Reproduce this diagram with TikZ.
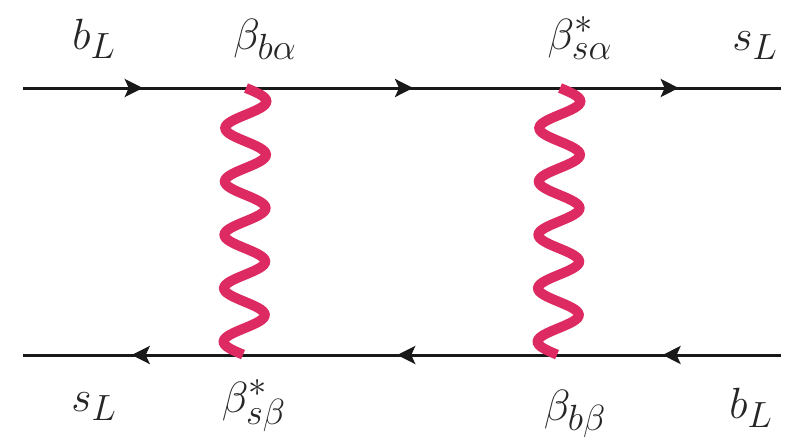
\documentclass[tikz,border=0pt]{standalone}
\definecolor{mypink}{HTML}{DE2A62}
\usetikzlibrary{
  positioning, calc, arrows.meta, decorations.markings
}
\tikzset{
  fermion/.style={black!90, line width=0.06cm, postaction={decorate},
    decoration={markings, mark=at position #1 with {\arrow{Stealth[length=0.36cm, width=0.36cm, inset=0.08cm]}}}},
  boson/.style={mypink, line width=0.2cm},
  coupling/.style={anchor=base, inner sep=0pt, text=black!85, font=\Huge}
}
\begin{document}
\begin{tikzpicture}
      \useasboundingbox (0,0) rectangle (15.78,8.82);

      % end points of the two quark lines and the four vertices
      \coordinate (inb) at (0.46,7.06);
      \coordinate (outs) at (15.62,7.06);
      \coordinate (inbb) at (15.62,1.72);
      \coordinate (outss) at (0.46,1.72);
      \coordinate (va) at (4.92,7.06);
      \coordinate (vb) at (11.20,7.06);
      \coordinate (vc) at (11.16,1.72);
      \coordinate (vd) at (4.88,1.72);

      % quark lines
      \draw[fermion=0.537] (inb) -- (va);
      \draw[fermion=0.532] (va) -- (vb);
      \draw[fermion=0.537] (vb) -- (outs);
      \draw[fermion=0.531] (inbb) -- (vc);
      \draw[fermion=0.512] (vc) -- (vd);
      \draw[fermion=0.508] (vd) -- (outss);

      % scalar exchange: five periods between the vertices
      \foreach \a/\b in {va/vd,vb/vc} {
        \draw[boson] let \p1=(\a), \p2=(\b) in
          plot[variable=\t, domain=0:1, samples=161]
          ({\x1+(\x2-\x1)*\t+0.41cm*sin(1800*\t)}, {\y1+(\y2-\y1)*\t});
      }

      % labels
      \node[coupling] (lbl1) at (1.88,7.84) {$b_L$};
      \node[coupling] (lbl2) at (5.30,7.84) {$\beta_{b\alpha}$};
      \node[coupling] (lbl3) at (11.60,7.84) {$\beta^*_{s\alpha}$};
      \node[coupling] (lbl4) at (15.10,7.82) {$s_L$};
      \node[coupling] (lbl5) at (1.88,0.60) {$s_L$};
      \node[coupling] (lbl6) at (5.08,0.58) {$\beta^*_{s\beta}$};
      \node[coupling] (lbl7) at (11.50,0.42) {$\beta_{b\beta}$};
      \node[coupling] (lbl8) at (15.02,0.46) {$b_L$};

    \end{tikzpicture}
\end{document}
